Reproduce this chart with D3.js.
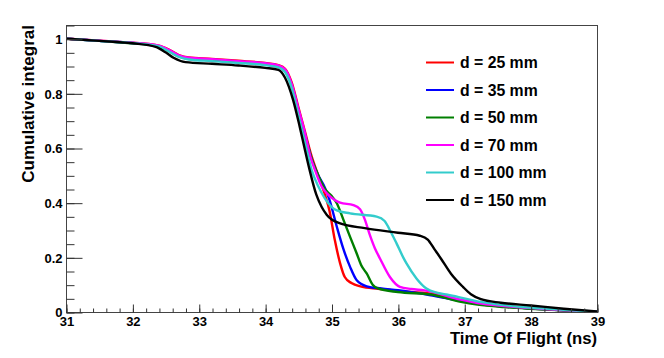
<!DOCTYPE html>
<html>
<head>
<meta charset="utf-8">
<script src="https://cdn.jsdelivr.net/npm/d3@7"></script>
<style>
  body { margin: 0; background: #fff; }
  text { font-family: "Liberation Sans", Arial, Helvetica, sans-serif; font-weight: bold; }
</style>
</head>
<body>
<div id="chart"></div>
<script>
// curves, [time (ns), cumulative integral]
const d25 = [[31,1.0],[31.5,0.993],[32,0.985],[32.4,0.974],[32.55,0.96],[32.7,0.94],[32.85,0.931],[33.2,0.926],[33.6,0.919],[34.0,0.911],[34.2,0.903],[34.3,0.89],[34.4,0.84],[34.5,0.75],[34.6,0.66],[34.7,0.57],[34.8,0.5],[34.9,0.43],[34.97,0.37],[35.05,0.263],[35.13,0.178],[35.2,0.128],[35.3,0.106],[35.45,0.093],[35.7,0.085],[36.0,0.077],[36.5,0.067],[36.9,0.045],[37.2,0.03],[37.6,0.02],[38.0,0.013],[38.5,0.006],[39,0.001]];
const d35 = [[31,1.0],[31.5,0.992],[32,0.984],[32.4,0.972],[32.55,0.957],[32.7,0.937],[32.85,0.928],[33.2,0.923],[33.6,0.916],[34.0,0.908],[34.2,0.9],[34.3,0.885],[34.4,0.83],[34.5,0.74],[34.6,0.65],[34.7,0.56],[34.8,0.5],[34.9,0.455],[34.97,0.41],[35.08,0.312],[35.18,0.23],[35.28,0.165],[35.38,0.116],[35.53,0.094],[35.75,0.086],[36.0,0.08],[36.5,0.061],[36.95,0.04],[37.2,0.03],[37.6,0.02],[38.0,0.013],[38.5,0.006],[39,0.001]];
const d50 = [[31,1.0],[31.5,0.992],[32,0.983],[32.4,0.971],[32.55,0.955],[32.7,0.935],[32.85,0.926],[33.2,0.921],[33.6,0.914],[34.0,0.906],[34.2,0.898],[34.3,0.883],[34.4,0.83],[34.5,0.74],[34.6,0.65],[34.7,0.56],[34.8,0.5],[34.9,0.45],[35.0,0.425],[35.08,0.398],[35.18,0.337],[35.28,0.275],[35.38,0.214],[35.45,0.17],[35.53,0.141],[35.62,0.1],[35.7,0.086],[36.0,0.073],[36.5,0.064],[36.95,0.037],[37.2,0.027],[37.6,0.018],[38.0,0.012],[38.5,0.006],[39,0.001]];
const d70 = [[31,1.0],[31.5,0.993],[32,0.985],[32.4,0.974],[32.55,0.959],[32.7,0.939],[32.85,0.93],[33.2,0.925],[33.6,0.918],[34.0,0.91],[34.2,0.902],[34.3,0.888],[34.4,0.835],[34.5,0.745],[34.6,0.655],[34.68,0.57],[34.75,0.52],[34.85,0.46],[34.93,0.434],[35.05,0.41],[35.13,0.4],[35.33,0.391],[35.43,0.376],[35.5,0.34],[35.58,0.28],[35.65,0.235],[35.73,0.196],[35.88,0.128],[36.03,0.092],[36.2,0.084],[36.4,0.079],[36.95,0.045],[37.2,0.033],[37.6,0.022],[38.0,0.014],[38.5,0.007],[39,0.001]];
const d100 = [[31,1.0],[31.5,0.992],[32,0.984],[32.4,0.972],[32.55,0.953],[32.7,0.933],[32.85,0.924],[33.2,0.918],[33.6,0.911],[34.0,0.903],[34.2,0.895],[34.3,0.878],[34.4,0.82],[34.5,0.72],[34.6,0.62],[34.7,0.52],[34.8,0.46],[34.9,0.416],[35.0,0.385],[35.08,0.372],[35.28,0.361],[35.68,0.349],[35.8,0.333],[35.9,0.29],[35.98,0.251],[36.08,0.2],[36.13,0.178],[36.28,0.123],[36.43,0.086],[36.6,0.07],[36.75,0.063],[37.0,0.05],[37.25,0.037],[37.6,0.025],[38.0,0.016],[38.5,0.008],[39,0.001]];
const d150 = [[31,1.0],[31.5,0.992],[32,0.983],[32.35,0.97],[32.5,0.95],[32.62,0.93],[32.8,0.914],[33.2,0.908],[33.6,0.902],[34.0,0.893],[34.2,0.886],[34.3,0.857],[34.42,0.777],[34.52,0.679],[34.6,0.593],[34.67,0.52],[34.77,0.43],[34.85,0.385],[34.93,0.355],[35.13,0.324],[35.5,0.307],[36.0,0.29],[36.33,0.279],[36.45,0.265],[36.55,0.23],[36.65,0.195],[36.8,0.14],[36.98,0.092],[37.1,0.065],[37.25,0.047],[37.55,0.034],[38.0,0.024],[38.5,0.012],[39,0.002]];

const labels = ["d = 25 mm", "d = 35 mm", "d = 50 mm", "d = 70 mm", "d = 100 mm", "d = 150 mm"];
const colors = ["#ff0000", "#0000ff", "#007f00", "#ff00ff", "#33cccc", "#000000"];
const seriesList = [d25, d35, d50, d70, d100, d150];

const xTicks = [31, 32, 33, 34, 35, 36, 37, 38, 39];
const yTicks = [0, 0.2, 0.4, 0.6, 0.8, 1];

const W = 664, H = 358;
const margin = {top: 25, right: 67, bottom: 46, left: 66};
const width = W - margin.left - margin.right;
const height = H - margin.top - margin.bottom;

const svg = d3.select("#chart").append("svg")
    .attr("width", W)
    .attr("height", H);

const g = svg.append("g")
    .attr("transform", `translate(${margin.left}, ${margin.top})`);

const x = d3.scaleLinear().domain([31, 39]).range([0, width]);
const y = d3.scaleLinear().domain([0, 1.05]).range([height, 0]);

g.append("clipPath").attr("id", "clip")
    .append("rect").attr("width", width).attr("height", height);

// curves
const line = d3.line()
    .x(d => x(d[0]))
    .y(d => y(d[1]))
    .curve(d3.curveMonotoneX);

seriesList.forEach((s, i) => {
    g.append("path")
        .datum(s)
        .attr("clip-path", "url(#clip)")
        .attr("fill", "none")
        .attr("stroke", colors[i])
        .attr("stroke-width", 2.4)
        .attr("stroke-linejoin", "round")
        .attr("d", line);
});

// frame
g.append("rect")
    .attr("x", 0.5).attr("y", 0.5)
    .attr("width", width).attr("height", height)
    .attr("fill", "none")
    .attr("stroke", "#444")
    .attr("stroke-width", 1);

// x axis: minor then major
g.append("g")
    .attr("transform", `translate(0.5, ${height + 0.5})`)
    .call(d3.axisBottom(x).tickValues(d3.range(31, 39.01, 0.2)).tickSizeInner(-4).tickSizeOuter(0).tickFormat(""))
    .call(a => a.select(".domain").remove())
    .selectAll("line").attr("stroke", "#333");

g.append("g")
    .attr("transform", `translate(0.5, ${height + 0.5})`)
    .call(d3.axisBottom(x).tickValues(xTicks).tickSizeInner(-8).tickSizeOuter(0).tickPadding(4).tickFormat(d3.format("d")))
    .call(a => a.select(".domain").remove())
    .call(a => a.selectAll("line").attr("stroke", "#333"))
    .selectAll("text")
    .attr("font-size", 13)
    .attr("fill", "#000")
    .attr("y", 4);

// y axis: minor then major
g.append("g")
    .attr("transform", "translate(0.5, 0.5)")
    .call(d3.axisLeft(y).tickValues(d3.range(0, 1.051, 0.05)).tickSizeInner(-8).tickSizeOuter(0).tickFormat(""))
    .call(a => a.select(".domain").remove())
    .selectAll("line").attr("stroke", "#333");

g.append("g")
    .attr("transform", "translate(0.5, 0.5)")
    .call(d3.axisLeft(y).tickValues(yTicks).tickSizeInner(-16).tickSizeOuter(0).tickPadding(4).tickFormat(d3.format("~g")))
    .call(a => a.select(".domain").remove())
    .call(a => a.selectAll("line").attr("stroke", "#333"))
    .selectAll("text")
    .attr("font-size", 13)
    .attr("fill", "#000")
    .attr("x", -4);

// axis titles
svg.append("text")
    .attr("x", margin.left + width)
    .attr("y", 344)
    .attr("text-anchor", "end")
    .attr("font-size", 16.7)
    .text("Time Of Flight (ns)");

svg.append("text")
    .attr("transform", `translate(34, ${margin.top}) rotate(-90)`)
    .attr("text-anchor", "end")
    .attr("font-size", 17)
    .text("Cumulative integral");

// legend
const legend = svg.append("g");
labels.forEach((lab, i) => {
    const cy = 62.5 + i * 27.5;
    legend.append("line")
        .attr("x1", 426).attr("x2", 454)
        .attr("y1", cy).attr("y2", cy)
        .attr("stroke", colors[i])
        .attr("stroke-width", 2);
    legend.append("text")
        .attr("x", 460)
        .attr("y", cy + 5.5)
        .attr("font-size", 15.8)
        .text(lab);
});
</script>
</body>
</html>
